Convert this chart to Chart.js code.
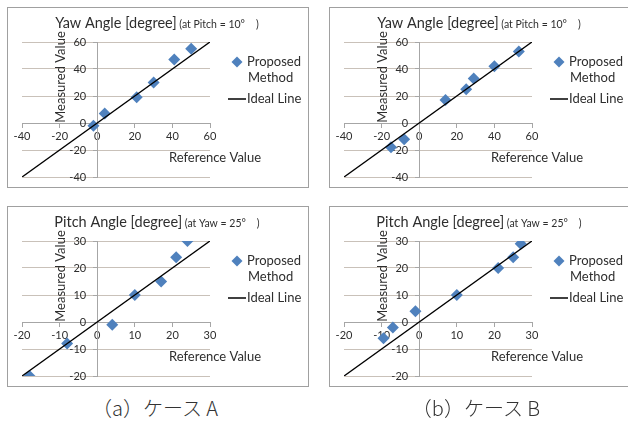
<!DOCTYPE html>
<html><head><meta charset="utf-8">
<script src="https://cdn.jsdelivr.net/npm/chart.js@4.4.0/dist/chart.umd.min.js"></script>
<style>
html,body{margin:0;padding:0;background:#fff;overflow:hidden;width:628px;height:425px;}
.panel{position:absolute;width:302px;height:181px;}
.panel canvas{position:absolute;left:0;top:0;}
.frame{position:absolute;left:0;top:0;width:302px;height:181px;box-sizing:border-box;border:1px solid #a0a0a0;pointer-events:none;}
.cap{position:absolute;top:395px;font-family:"Noto Sans CJK JP";font-weight:300;font-size:20px;line-height:26px;color:#333;white-space:nowrap;transform:translateX(-50%);}
</style></head><body>
<div class="panel" style="left:7px;top:7px"><canvas id="c1" width="302" height="181"></canvas><div class="frame"></div></div>
<div class="panel" style="left:329px;top:7px"><canvas id="c2" width="302" height="181"></canvas><div class="frame"></div></div>
<div class="panel" style="left:7px;top:206px"><canvas id="c3" width="302" height="181"></canvas><div class="frame"></div></div>
<div class="panel" style="left:329px;top:206px"><canvas id="c4" width="302" height="181"></canvas><div class="frame"></div></div>
<div class="cap" style="left:155px">（a）ケース A</div>
<div class="cap" style="left:476px">（b）ケース B</div>
<script>
// ---- data ----
const yawRefA   = [-2, 4, 21, 30, 41, 50];
const yawMeasA  = [-2, 7, 19, 30, 47, 55];
const yawRefB   = [-15, -8, 14, 25, 29, 40, 53];
const yawMeasB  = [-18, -12, 17, 25, 33, 42, 53];
const pitchRefA  = [-18, -8, 4, 10, 17, 21, 24];
const pitchMeasA = [-20, -8, -1, 10, 15, 24, 30];
const pitchRefB  = [-9.5, -7, -1, 10, 21, 25, 27];
const pitchMeasB = [-6, -2, 4, 10, 20, 24, 29];
const yawRange   = [-40, 60];
const pitchRange = [-20, 30];
const yawStep = 20;
const pitchStep = 10;
const yawTitle   = ['Yaw Angle [degree]', ' (at Pitch = 10°\u3000)'];
const pitchTitle = ['Pitch Angle [degree]', ' (at Yaw = 25°\u3000)'];
const seriesNames = ['Proposed', 'Method', 'Ideal Line'];
const xTitle = 'Reference Value';
const yTitle = 'Measured Value';

const TXT = '#2e2e2e';
const BLUE = '#4F81BD';

const textPlugin = {
  id: 'panelText',
  afterDraw(chart, args, opts) {
    const ctx = chart.ctx;
    ctx.save();
    ctx.fillStyle = TXT;
    ctx.textBaseline = 'alphabetic';
    ctx.textAlign = 'left';
    ctx.font = '14.5px Lato';
    const w1 = ctx.measureText(opts.title[0]).width;
    ctx.font = '10.5px Lato';
    const w2 = ctx.measureText(opts.title[1]).width;
    const x0 = (chart.width - w1 - w2) / 2 - 1;
    ctx.font = '14.5px Lato';
    ctx.fillText(opts.title[0], x0, 21);
    ctx.font = '10.5px Lato';
    ctx.fillText(opts.title[1], x0 + w1, 21);
    // axis titles
    ctx.font = '13px Lato';
    ctx.textAlign = 'center';
    ctx.textBaseline = 'middle';
    ctx.fillText(xTitle, 208, 151);
    ctx.save();
    ctx.translate(54, 70);
    ctx.rotate(-Math.PI / 2);
    ctx.fillText(yTitle, 0, 0);
    ctx.restore();
    // legend
    ctx.fillStyle = BLUE;
    Chart.helpers.drawPoint(ctx, {pointStyle: 'rectRot', radius: 5.5, borderWidth: 0, rotation: 0}, 230, 55);
    ctx.strokeStyle = '#000';
    ctx.lineWidth = 1.5;
    ctx.beginPath(); ctx.moveTo(221, 92); ctx.lineTo(239, 92); ctx.stroke();
    ctx.fillStyle = TXT;
    ctx.textAlign = 'left';
    ctx.fillText(seriesNames[0], 240, 55);
    ctx.fillText(seriesNames[1], 241, 71);
    ctx.fillText(seriesNames[2], 240, 92);
    ctx.restore();
  }
};

function makeChart(id, refs, meas, range, step, title) {
  const pts = refs.map((x, i) => ({x: x, y: meas[i]}));
  const ideal = range.map(v => ({x: v, y: v}));
  const tickFont = {family: 'Lato', size: 11};
  new Chart(document.getElementById(id), {
    type: 'scatter',
    data: {
      datasets: [
        {label: seriesNames[0] + ' ' + seriesNames[1], data: pts, order: 1,
         pointStyle: 'rectRot', pointRadius: 6, pointBackgroundColor: BLUE,
         pointBorderColor: BLUE, pointBorderWidth: 0, showLine: false},
        {label: seriesNames[2], data: ideal, order: 0, showLine: true,
         borderColor: '#000', borderWidth: 1.4, pointRadius: 0}
      ]
    },
    options: {
      responsive: false, animation: false, events: [],
      layout: {padding: {left: 15, right: 99, top: 35, bottom: 11}},
      plugins: {legend: {display: false}, tooltip: {enabled: false}, panelText: {title: title}},
      scales: {
        x: {type: 'linear', min: range[0], max: range[1], position: {y: 0},
            ticks: {stepSize: step, color: TXT, font: tickFont, padding: 3, maxRotation: 0, autoSkip: false},
            grid: {drawOnChartArea: false, drawTicks: true, tickLength: 4, color: '#a6a6a6'},
            border: {display: true, color: '#a6a6a6', width: 1}},
        y: {type: 'linear', min: range[0], max: range[1], position: {x: 0},
            ticks: {stepSize: step, color: TXT, font: tickFont, autoSkip: false,
                    callback: v => v + '\u2002\u2002'},
            grid: {color: '#c9c1b9', tickLength: 4, tickColor: '#a6a6a6'},
            border: {display: true, color: '#a6a6a6', width: 1}}
      }
    },
    plugins: [textPlugin]
  });
}

makeChart('c1', yawRefA, yawMeasA, yawRange, yawStep, yawTitle);
makeChart('c2', yawRefB, yawMeasB, yawRange, yawStep, yawTitle);
makeChart('c3', pitchRefA, pitchMeasA, pitchRange, pitchStep, pitchTitle);
makeChart('c4', pitchRefB, pitchMeasB, pitchRange, pitchStep, pitchTitle);
</script>
</body></html>
